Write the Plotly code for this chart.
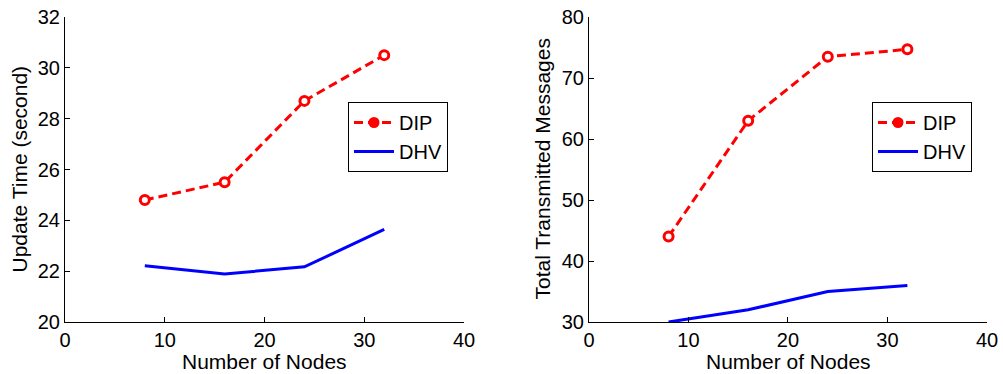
"""Update time and transmitted messages vs number of nodes (DIP vs DHV)."""

import plotly.graph_objects as go

NODES = [8, 16, 24, 32]

UPDATE_TIME_DIP = [24.8, 25.5, 28.7, 30.5]
UPDATE_TIME_DHV = [22.21, 21.89, 22.17, 23.64]

MESSAGES_DIP = [44.0, 63.0, 73.5, 74.7]
MESSAGES_DHV = [30.0, 32.0, 35.0, 36.0]

X_TICKS = [0, 10, 20, 30, 40]
Y_TICKS_LEFT = [20, 22, 24, 26, 28, 30, 32]
Y_TICKS_RIGHT = [30, 40, 50, 60, 70, 80]

X_TITLE = 'Number of Nodes'
Y_TITLE_LEFT = 'Update Time (second)'
Y_TITLE_RIGHT = 'Total Transmitted Messages'

RED = '#ff0000'
BLUE = '#0000ff'
FONT = 'Liberation Sans, Arial, sans-serif'
DIP_DASH = '9px,5px'
W, H = 1003, 374

fig = go.Figure()

panels = [
    ('x', 'y', 'legend', UPDATE_TIME_DIP, UPDATE_TIME_DHV),
    ('x2', 'y2', 'legend2', MESSAGES_DIP, MESSAGES_DHV),
]
for xa, ya, lg, dip, dhv in panels:
    fig.add_trace(go.Scatter(
        x=NODES, y=dip, name='DIP', mode='lines+markers', showlegend=False,
        xaxis=xa, yaxis=ya,
        line=dict(color=RED, width=3, dash=DIP_DASH),
        marker=dict(symbol='circle', size=9, color='white',
                    line=dict(color=RED, width=3)),
    ))
    # legend entry only: MATLAB draws the legend marker filled
    fig.add_trace(go.Scatter(
        x=[None], y=[None], name='DIP', mode='lines+markers',
        xaxis=xa, yaxis=ya, legend=lg,
        line=dict(color=RED, width=3, dash=DIP_DASH),
        marker=dict(symbol='circle', size=11, color=RED),
    ))
    fig.add_trace(go.Scatter(
        x=NODES, y=dhv, name='DHV', mode='lines',
        xaxis=xa, yaxis=ya, legend=lg,
        line=dict(color=BLUE, width=3),
    ))

axis_common = dict(
    showgrid=False, zeroline=False, showline=True, linecolor='black', linewidth=1,
    ticks='inside', ticklen=5, tickcolor='black', mirror=False, automargin=False,
    tickfont=dict(size=20, color='black', family=FONT),
)

legend_common = dict(
    bgcolor='white', bordercolor='black', borderwidth=1,
    font=dict(size=20, color='black', family=FONT),
    xanchor='left', yanchor='top', tracegroupgap=0, itemwidth=40,
    xref='container', yref='container',
)

title_font = dict(size=21, color='black', family=FONT)
# axis titles as annotations (container coordinates, pixels / figure size)
titles = [
    dict(text=X_TITLE, x=264.5 / W, y=0, xanchor='center', yanchor='bottom'),
    dict(text=X_TITLE, x=788 / W, y=0, xanchor='center', yanchor='bottom'),
    dict(text=Y_TITLE_LEFT, x=19 / W, y=1 - 169.5 / H, textangle=-90,
         xanchor='center', yanchor='middle'),
    dict(text=Y_TITLE_RIGHT, x=542 / W, y=1 - 169.5 / H, textangle=-90,
         xanchor='center', yanchor='middle'),
]
annotations = [dict(t, xref='paper', yref='paper', showarrow=False, font=title_font,
                    borderpad=0)
               for t in titles]
# convert container fractions to paper fractions (plot area = margins inside)
ML, MR, MT, MB = 65, 16, 17, 52
for a in annotations:
    a['x'] = (a['x'] * W - ML) / (W - ML - MR)
    a['y'] = (a['y'] * H - MB) / (H - MT - MB)

fig.update_layout(
    width=W, height=H,
    paper_bgcolor='white', plot_bgcolor='white',
    margin=dict(l=ML, r=MR, t=MT, b=MB, autoexpand=False),
    font=dict(family=FONT, color='black'),
    xaxis=dict(domain=[0, 0.4328], range=[0, 40], tickvals=X_TICKS,
               anchor='y', **axis_common),
    yaxis=dict(domain=[0, 1], range=[20, 32], tickvals=Y_TICKS_LEFT,
               anchor='x', **axis_common),
    xaxis2=dict(domain=[0.5683, 1], range=[0, 40], tickvals=X_TICKS,
                anchor='y2', **axis_common),
    yaxis2=dict(domain=[0, 1], range=[30, 80], tickvals=Y_TICKS_RIGHT,
                anchor='x2', **axis_common),
    legend=dict(x=348 / W, y=1 - 102 / H, **legend_common),
    legend2=dict(x=872 / W, y=1 - 102 / H, **legend_common),
    annotations=annotations,
)

fig.write_html("out.html", config={'displayModeBar': False},
               post_script="document.body.style.margin='0';")
